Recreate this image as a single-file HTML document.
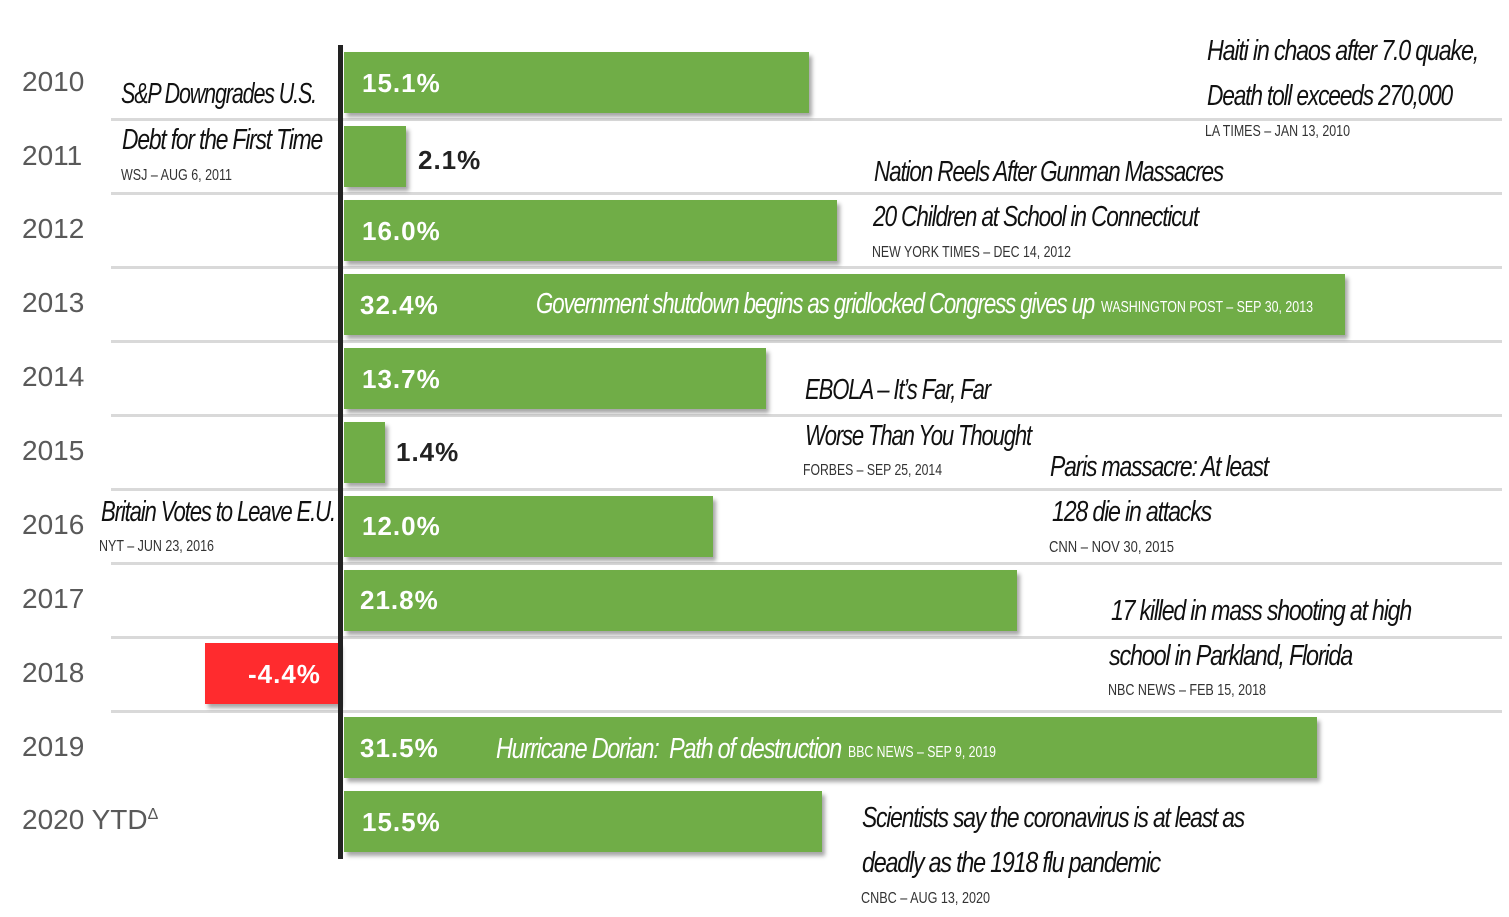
<!DOCTYPE html>
<html><head><meta charset="utf-8"><style>
body{margin:0;background:#fff;width:1509px;height:917px;position:relative;overflow:hidden;font-family:"Liberation Sans",sans-serif}
.sep{position:absolute;left:111px;width:1391px;height:3px;background:#d9d9d9}
.yr{position:absolute;left:22px;font-size:28px;color:#595959;line-height:30px;letter-spacing:0px}
.bar{position:absolute;left:344px;height:61px;background:#70ad47;box-shadow:3px 4px 4px rgba(0,0,0,.35)}
.bl{position:absolute;color:#fff;font-weight:bold;font-size:26px;letter-spacing:1px;line-height:30px}
.dl{color:#222}
.t{position:absolute;white-space:nowrap;transform-origin:0 50%;font-style:italic;font-size:29px;letter-spacing:-1.5px;color:#111;line-height:32px}
.s{position:absolute;white-space:nowrap;transform-origin:0 50%;font-size:16px;color:#333;line-height:18px}
.w{color:#fff}
</style></head><body>
<div class="sep" style="top:118px"></div><div class="sep" style="top:192px"></div><div class="sep" style="top:266px"></div><div class="sep" style="top:340px"></div><div class="sep" style="top:414px"></div><div class="sep" style="top:488px"></div><div class="sep" style="top:562px"></div><div class="sep" style="top:636px"></div><div class="sep" style="top:710px"></div>
<div style="position:absolute;left:338px;top:45px;width:5px;height:814px;background:#222;z-index:3"></div>

<div class="yr" style="top:67px">2010</div><div class="yr" style="top:141px">2011</div><div class="yr" style="top:214px">2012</div><div class="yr" style="top:288px">2013</div><div class="yr" style="top:362px">2014</div><div class="yr" style="top:436px">2015</div><div class="yr" style="top:510px">2016</div><div class="yr" style="top:584px">2017</div><div class="yr" style="top:658px">2018</div><div class="yr" style="top:732px">2019</div><div class="yr" style="top:800px">2020 YTD<sup style="font-size:16px;vertical-align:10px">Δ</sup></div>

<div class="bar" style="top:52px;width:465px"></div>
<div class="bar" style="top:126px;width:62px"></div>
<div class="bar" style="top:200px;width:493px"></div>
<div class="bar" style="top:274px;width:1001px"></div>
<div class="bar" style="top:348px;width:422px"></div>
<div class="bar" style="top:422px;width:41px"></div>
<div class="bar" style="top:496px;width:369px"></div>
<div class="bar" style="top:570px;width:673px"></div>
<div class="bar" style="top:643px;left:205px;width:134px;background:#ff2b2e"></div>
<div class="bar" style="top:717px;width:973px"></div>
<div class="bar" style="top:791px;width:478px"></div>

<div class="bl" style="left:362px;top:68px">15.1%</div>
<div class="bl dl" style="left:418px;top:145px">2.1%</div>
<div class="bl" style="left:362px;top:216px">16.0%</div>
<div class="bl" style="left:360px;top:290px">32.4%</div>
<div class="bl" style="left:362px;top:364px">13.7%</div>
<div class="bl dl" style="left:396px;top:437px">1.4%</div>
<div class="bl" style="left:362px;top:511px">12.0%</div>
<div class="bl" style="left:360px;top:585px">21.8%</div>
<div class="bl" style="left:248px;top:659px">-4.4%</div>
<div class="bl" style="left:360px;top:733px">31.5%</div>
<div class="bl" style="left:362px;top:807px">15.5%</div>

<div class="t" style="left:121px;top:78px;--w:195">S&amp;P Downgrades U.S.</div>
<div class="t" style="left:122px;top:124px;--w:200">Debt for the First Time</div>
<div class="s" style="left:121px;top:167px;--w:111">WSJ – AUG 6, 2011</div>

<div class="t" style="left:1207px;top:35px;--w:271">Haiti in chaos after 7.0 quake,</div>
<div class="t" style="left:1207px;top:80px;--w:245">Death toll exceeds 270,000</div>
<div class="s" style="left:1205px;top:123px;--w:145">LA TIMES – JAN 13, 2010</div>

<div class="t" style="left:874px;top:156px;--w:349">Nation Reels After Gunman Massacres</div>
<div class="t" style="left:873px;top:201px;--w:325">20 Children at School in Connecticut</div>
<div class="s" style="left:872px;top:244px;--w:199">NEW YORK TIMES – DEC 14, 2012</div>

<div class="t w" style="left:536px;top:288px;--w:558">Government shutdown begins as gridlocked Congress gives up</div>
<div class="s w" style="left:1101px;top:299px;--w:212">WASHINGTON POST – SEP 30, 2013</div>

<div class="t" style="left:805px;top:374px;--w:185">EBOLA – It’s Far, Far</div>
<div class="t" style="left:805px;top:420px;--w:226">Worse Than You Thought</div>
<div class="s" style="left:803px;top:462px;--w:139">FORBES – SEP 25, 2014</div>

<div class="t" style="left:1050px;top:451px;--w:218">Paris massacre: At least</div>
<div class="t" style="left:1052px;top:496px;--w:159">128 die in attacks</div>
<div class="s" style="left:1049px;top:539px;--w:125">CNN – NOV 30, 2015</div>

<div class="t" style="left:101px;top:496px;--w:234">Britain Votes to Leave E.U.</div>
<div class="s" style="left:99px;top:538px;--w:115">NYT – JUN 23, 2016</div>

<div class="t" style="left:1111px;top:595px;--w:300">17 killed in mass shooting at high</div>
<div class="t" style="left:1109px;top:640px;--w:243">school in Parkland, Florida</div>
<div class="s" style="left:1108px;top:682px;--w:158">NBC NEWS – FEB 15, 2018</div>

<div class="t w" style="left:496px;top:733px;--w:345">Hurricane Dorian:&nbsp; Path of destruction</div>
<div class="s w" style="left:848px;top:744px;--w:148">BBC NEWS – SEP 9, 2019</div>

<div class="t" style="left:862px;top:802px;--w:382">Scientists say the coronavirus is at least as</div>
<div class="t" style="left:862px;top:847px;--w:298">deadly as the 1918 flu pandemic</div>
<div class="s" style="left:861px;top:890px;--w:129">CNBC – AUG 13, 2020</div>

<script>
document.querySelectorAll('.t,.s').forEach(function(e){
 var w=parseFloat(getComputedStyle(e).getPropertyValue('--w'));
 var a=e.getBoundingClientRect().width;
 if(w&&a)e.style.transform='scaleX('+(w/a)+')';
});
</script>
</body></html>
